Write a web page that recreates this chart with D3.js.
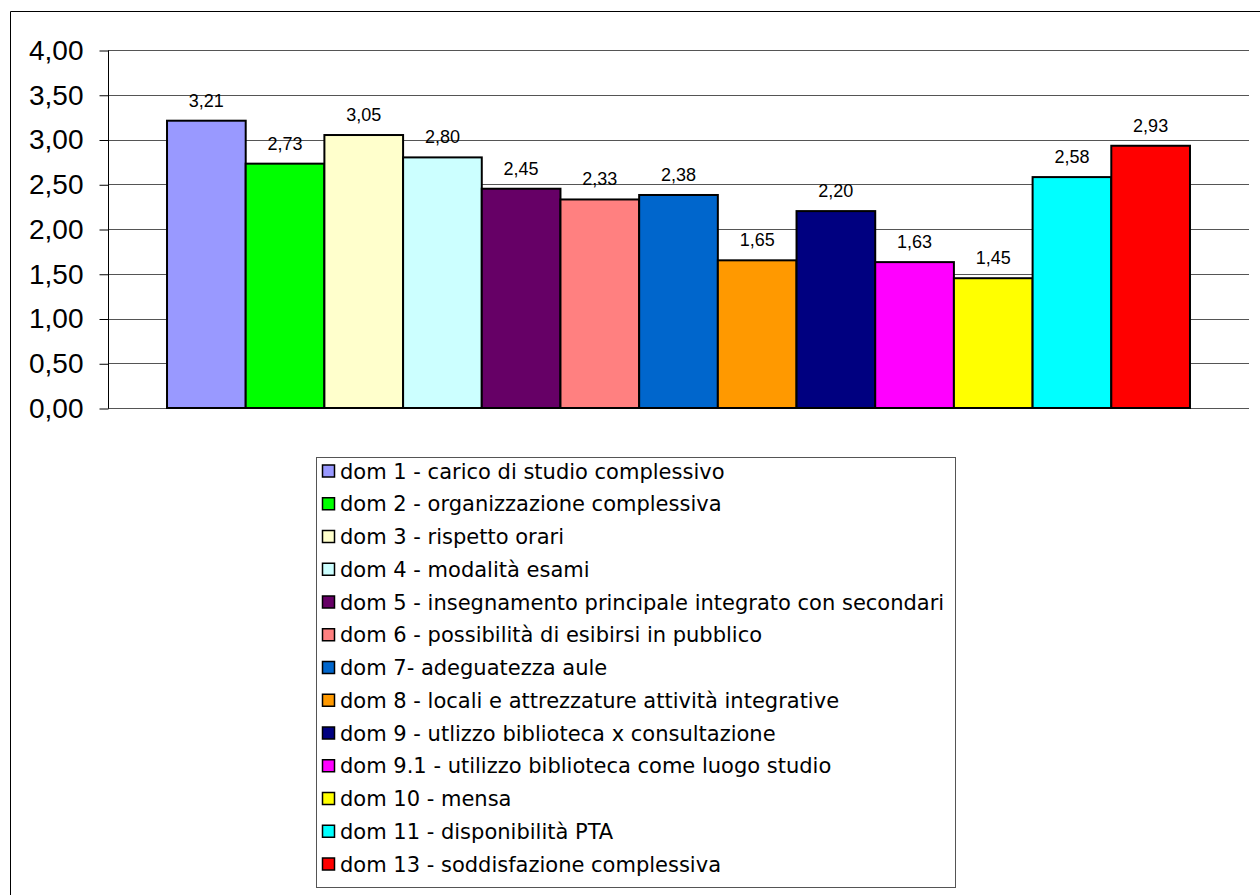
<!DOCTYPE html>
<html>
<head>
<meta charset="utf-8">
<script src="https://cdn.jsdelivr.net/npm/d3@7"></script>
<style>
  html, body { margin: 0; padding: 0; background: #fff; }
  svg { display: block; }
</style>
</head>
<body>
<svg id="chart" width="1260" height="895"></svg>
<script>
// Questionnaire domains (legend labels), mean scores and bar fills
const categories = [
  "dom 1 - carico di studio complessivo",
  "dom 2 - organizzazione complessiva",
  "dom 3 - rispetto orari",
  "dom 4 - modalità esami",
  "dom 5 - insegnamento principale integrato con secondari",
  "dom 6 - possibilità di esibirsi in pubblico",
  "dom 7- adeguatezza aule",
  "dom 8 - locali e attrezzature attività integrative",
  "dom 9 - utlizzo biblioteca x consultazione",
  "dom 9.1 - utilizzo biblioteca come luogo studio",
  "dom 10 - mensa",
  "dom 11 - disponibilità PTA",
  "dom 13 - soddisfazione complessiva"
];
const values = [3.21, 2.73, 3.05, 2.80, 2.45, 2.33, 2.38, 1.65, 2.20, 1.63, 1.45, 2.58, 2.93];
const colors = [
  "#9999FF", "#00FF00", "#FFFFCC", "#CCFFFF", "#660066", "#FF8080", "#0066CC",
  "#FF9900", "#000080", "#FF00FF", "#FFFF00", "#00FFFF", "#FF0000"
];
const yTicks = [0, 0.5, 1, 1.5, 2, 2.5, 3, 3.5, 4];

const fmt = v => d3.format(".2f")(v).replace(".", ",");

const svg = d3.select("#chart");

// Outer chart frame (top and left edges visible)
svg.append("path")
  .attr("d", "M10.5,895 V11.5 H1260")
  .attr("fill", "none")
  .attr("stroke", "#000")
  .attr("stroke-width", 1);

const plot = { left: 108, right: 1249, top: 50, bottom: 408 };

const x = d3.scaleBand()
  .domain(d3.range(values.length))
  .range([plot.left, plot.right])
  .paddingInner(0)
  .paddingOuter(0.75);

const y = d3.scaleLinear().domain([0, 4]).range([plot.bottom, plot.top]);

// Horizontal gridlines
svg.append("g")
  .selectAll("line")
  .data(yTicks)
  .join("line")
  .attr("x1", plot.left)
  .attr("x2", plot.right)
  .attr("y1", d => Math.round(y(d)) + 0.5)
  .attr("y2", d => Math.round(y(d)) + 0.5)
  .attr("stroke", "#555")
  .attr("stroke-width", 1);

// Value axis with tick marks pointing outward
const yAxis = d3.axisLeft(y)
  .tickValues(yTicks)
  .tickFormat(fmt)
  .tickSize(9)
  .tickPadding(16);

const gy = svg.append("g")
  .attr("transform", `translate(${plot.left + 0.5},0.5)`)
  .call(yAxis);
gy.select(".domain").attr("stroke", "#000").attr("d", `M0,${plot.top}V${plot.bottom}`);
gy.selectAll(".tick line").attr("stroke", "#000");
gy.selectAll(".tick text")
  .attr("fill", "#000")
  .style("font-family", "Arial, 'Liberation Sans', sans-serif")
  .style("font-size", "28px");

// Bars
svg.append("g")
  .selectAll("rect")
  .data(values)
  .join("rect")
  .attr("x", (d, i) => x(i))
  .attr("y", d => y(d))
  .attr("width", x.bandwidth())
  .attr("height", d => y(0) - y(d))
  .attr("fill", (d, i) => colors[i])
  .attr("stroke", "#000")
  .attr("stroke-width", 2);

// Value labels above bars
svg.append("g")
  .selectAll("text")
  .data(values)
  .join("text")
  .attr("x", (d, i) => x(i) + x.bandwidth() / 2)
  .attr("y", d => y(d) - 14)
  .attr("text-anchor", "middle")
  .style("font-family", "Arial, 'Liberation Sans', sans-serif")
  .style("font-size", "18px")
  .attr("fill", "#000")
  .text(fmt);

// Legend
const legend = { x: 316, y: 457, w: 639, h: 430, row0: 471, step: 32.75 };
svg.append("rect")
  .attr("x", legend.x + 0.5)
  .attr("y", legend.y + 0.5)
  .attr("width", legend.w)
  .attr("height", legend.h)
  .attr("fill", "#fff")
  .attr("stroke", "#555")
  .attr("stroke-width", 1);

const items = svg.append("g")
  .selectAll("g")
  .data(categories)
  .join("g")
  .attr("transform", (d, i) => `translate(${legend.x},${legend.row0 + i * legend.step})`);

items.append("rect")
  .attr("x", 6.5)
  .attr("y", -6)
  .attr("width", 12)
  .attr("height", 12)
  .attr("fill", (d, i) => colors[i])
  .attr("stroke", "#000")
  .attr("stroke-width", 1.5);

items.append("text")
  .attr("x", 24)
  .attr("y", 7.5)
  .style("font-family", "Verdana, 'DejaVu Sans', sans-serif")
  .style("font-size", "21px")
  .attr("fill", "#000")
  .text(d => d);
</script>
</body>
</html>
